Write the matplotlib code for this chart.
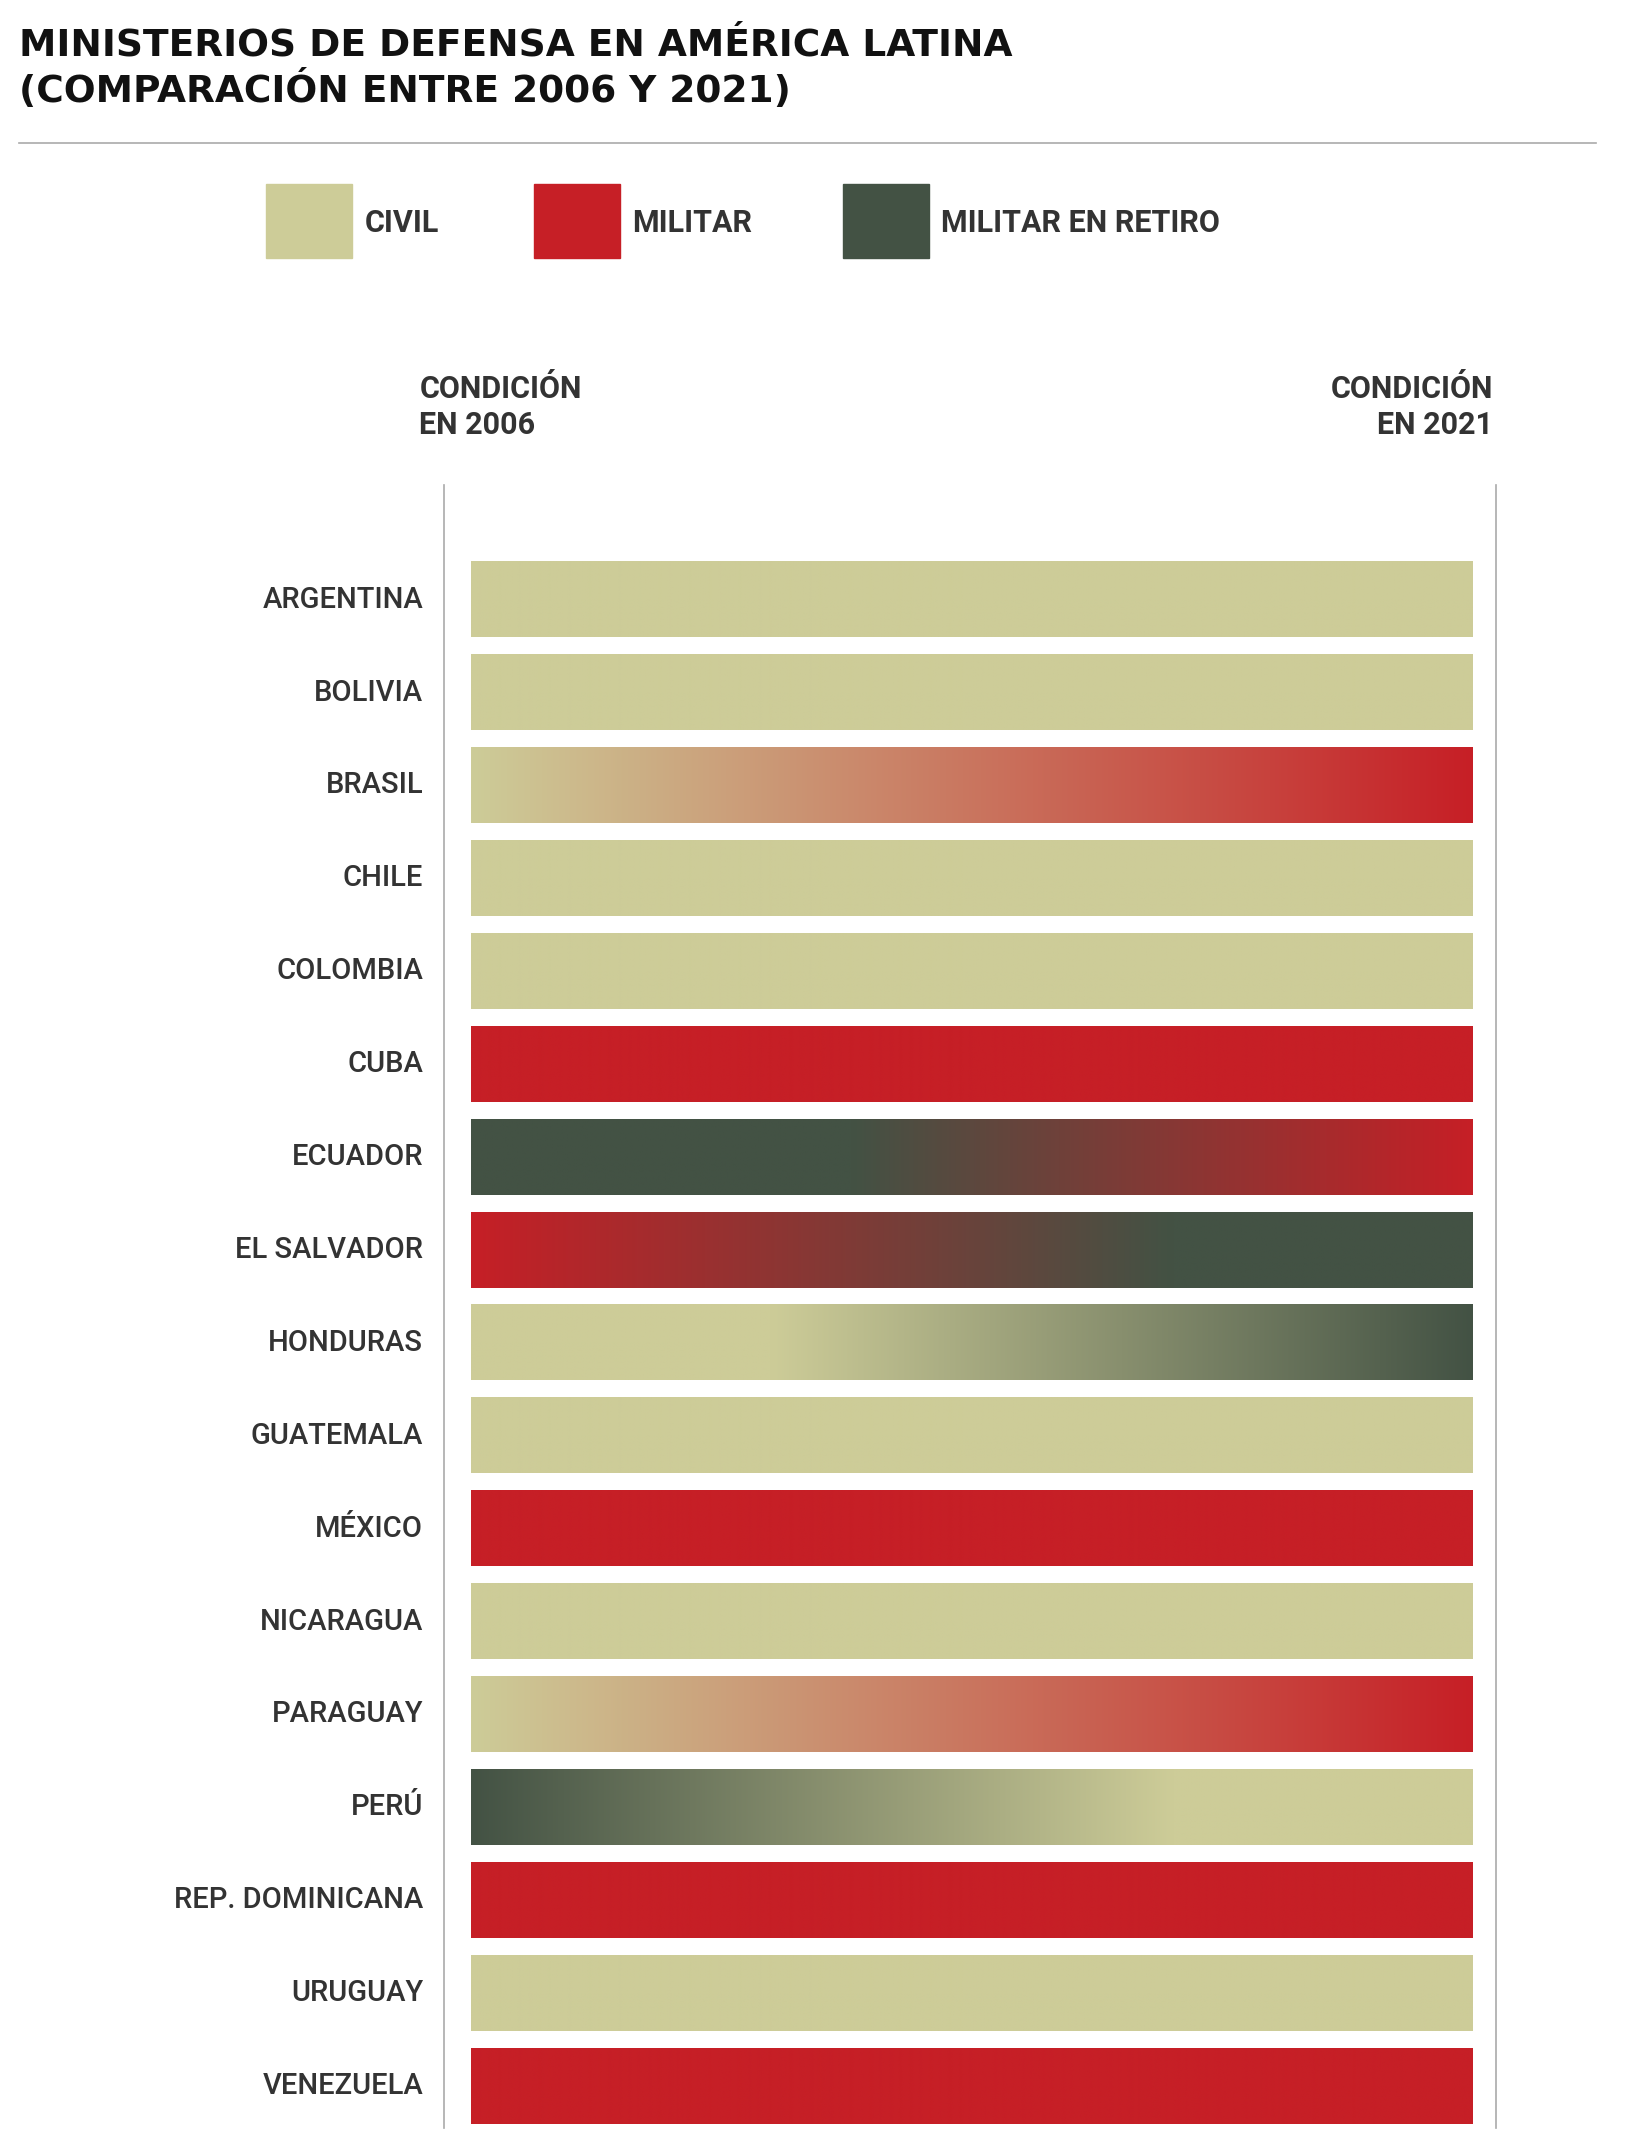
import numpy as np
import matplotlib.pyplot as plt
from matplotlib.colors import to_rgb
from matplotlib.lines import Line2D

countries = ["ARGENTINA", "BOLIVIA", "BRASIL", "CHILE", "COLOMBIA", "CUBA", "ECUADOR",
             "EL SALVADOR", "HONDURAS", "GUATEMALA", "MÉXICO", "NICARAGUA", "PARAGUAY",
             "PERÚ", "REP. DOMINICANA", "URUGUAY", "VENEZUELA"]
status_2006 = ["civil", "civil", "civil", "civil", "civil", "militar", "retiro",
               "militar", "civil", "civil", "militar", "civil", "civil",
               "retiro", "militar", "civil", "militar"]
status_2021 = ["civil", "civil", "militar", "civil", "civil", "militar", "militar",
               "retiro", "retiro", "civil", "militar", "civil", "militar",
               "civil", "militar", "civil", "militar"]
# fraction of the bar where the colour change starts / ends
change_start = [0, 0, 0, 0, 0, 0, 0.38, 0.0, 0.30, 0, 0, 0, 0.0, 0.0, 0, 0, 0]
change_end = [1, 1, 1, 1, 1, 1, 1.0, 0.70, 1.0, 1, 1, 1, 1.0, 0.70, 1, 1, 1]

colors = {"civil": "#CDCC98", "militar": "#C61F26", "retiro": "#435244"}
legend_labels = {"civil": "CIVIL", "militar": "MILITAR", "retiro": "MILITAR EN RETIRO"}

W, H = 1632, 2142
fig = plt.figure(figsize=(W / 100, H / 100), dpi=100)
fig.patch.set_facecolor("white")

# helpers in reference-preview pixel units
s = H / 1568
def fx(x): return x * s / W
def fy(y): return 1 - y * s / H

fig.text(fx(14), fy(50), "MINISTERIOS DE DEFENSA EN AMÉRICA LATINA\n(COMPARACIÓN ENTRE 2006 Y 2021)",
         fontsize=27, fontweight="bold", family="DejaVu Sans",
         va="center", ha="left", color="#111111", linespacing=1.2)
fig.add_artist(Line2D([fx(14), fx(1168)], [fy(105), fy(105)], color="#AAAAAA", lw=1.2))

leg_x = [195, 391, 617]
for key, x0 in zip(["civil", "militar", "retiro"], leg_x):
    fig.add_artist(plt.Rectangle((fx(x0), fy(189)), fx(63), fy(135) - fy(189),
                                 color=colors[key], transform=fig.transFigure))
    fig.text(fx(x0 + 72), fy(163), legend_labels[key], fontsize=22, fontweight="bold",
             family="Roboto", color="#333333", va="center")

fig.text(fx(307), fy(298), "CONDICIÓN\nEN 2006", fontsize=22, fontweight="bold", family="Roboto",
         color="#333333", va="center", ha="left", linespacing=1.25)
fig.text(fx(1093), fy(298), "CONDICIÓN\nEN 2021", fontsize=22, fontweight="bold", family="Roboto",
         color="#333333", va="center", ha="right", multialignment="right", linespacing=1.25)
for xv in [325, 1095]:
    fig.add_artist(Line2D([fx(xv), fx(xv)], [fy(355), fy(1558)], color="#AAAAAA", lw=1.2))

ax = fig.add_axes([fx(345), fy(1561), fx(1078) - fx(345), fy(405) - fy(1561)])
ax.axis("off")

xs = np.linspace(0, 1, 400)
bh = 55 / 68
for i, name in enumerate(countries):
    c0 = np.array(to_rgb(colors[status_2006[i]]))
    c1 = np.array(to_rgb(colors[status_2021[i]]))
    a, b = change_start[i], change_end[i]
    t = np.clip((xs - a) / max(b - a, 1e-6), 0, 1)
    row = c0[None, :] * (1 - t[:, None]) + c1[None, :] * t[:, None]
    ax.imshow(row[None, :, :], extent=(0, 1, i + bh / 2, i - bh / 2), aspect="auto",
              interpolation="bilinear")
    ax.text(-0.048, i, name, ha="right", va="center", fontsize=21, fontweight="medium",
            family="Roboto", color="#333333", clip_on=False)
ax.set_xlim(0, 1)
ax.set_ylim(len(countries) - 0.5, -0.5)

fig.savefig("out.png", dpi=100, facecolor="white")
